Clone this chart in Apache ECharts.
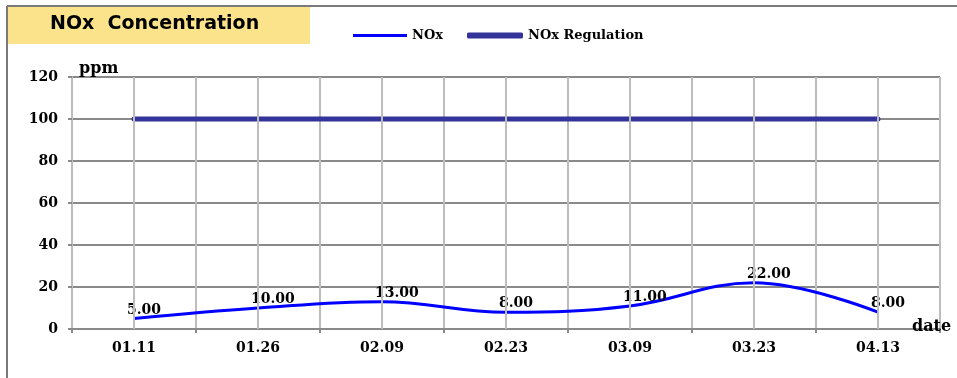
<!DOCTYPE html>
<html>
<head>
<meta charset="utf-8">
<style>
  html, body { margin: 0; padding: 0; background: #fff; }
  #chart { width: 957px; height: 378px; }
</style>
<script src="https://cdn.jsdelivr.net/npm/echarts@6/dist/echarts.min.js"></script>
</head>
<body>
<div id="chart"></div>
<script>
// Sampling dates and measured NOx concentrations (ppm)
const dates = ['01.11', '01.26', '02.09', '02.23', '03.09', '03.23', '04.13'];
const noxValues = [5, 10, 13, 8, 11, 22, 8];
const regulationValues = [100, 100, 100, 100, 100, 100, 100];
const yTicks = { min: 0, max: 120, step: 20 };

const serif = '"DejaVu Serif", "Liberation Serif", serif';
const chart = echarts.init(document.getElementById('chart'), null, { renderer: 'canvas' });

chart.setOption({
  animation: false,
  backgroundColor: '#ffffff',
  grid: { left: 72, right: 17, top: 77, bottom: 49, containLabel: false },
  graphic: [
    // frame lines
    { type: 'line', shape: { x1: 7, y1: 6, x2: 7, y2: 378 }, style: { stroke: '#7a7a7a', lineWidth: 2 }, z: 0 },
    { type: 'line', shape: { x1: 7, y1: 6, x2: 957, y2: 6 }, style: { stroke: '#7a7a7a', lineWidth: 2 }, z: 0 },
    // title box
    { type: 'rect', shape: { x: 8, y: 7, width: 302, height: 37 }, style: { fill: '#fbe38c' }, z: 1 },
    { type: 'text', left: 50, top: 15, z: 2,
      style: { text: 'NOx  Concentration', fill: '#000', font: 'bold 19px "DejaVu Sans", sans-serif' } },
    // axis names
    { type: 'text', left: 79, top: 61, z: 2,
      style: { text: 'ppm', fill: '#000', font: 'bold 16px ' + serif } },
    { type: 'text', left: 912, top: 319, z: 2,
      style: { text: 'date', fill: '#000', font: 'bold 16px ' + serif } }
  ],
  legend: [
    { data: [{ name: 'NOx', icon: 'rect' }], left: 348, top: 24, itemWidth: 54, itemHeight: 3,
      textStyle: { fontFamily: serif, fontWeight: 'bold', fontSize: 13, color: '#000' } },
    { data: [{ name: 'NOx Regulation', icon: 'roundRect' }], left: 462, top: 24, itemWidth: 56, itemHeight: 6,
      textStyle: { fontFamily: serif, fontWeight: 'bold', fontSize: 13, color: '#000' } }
  ],
  xAxis: {
    type: 'category',
    data: dates,
    boundaryGap: true,
    axisLine: { lineStyle: { color: '#8a8a8a', width: 2 } },
    axisTick: { show: true, length: 4, lineStyle: { color: '#8a8a8a', width: 2 } },
    axisLabel: { margin: 12, color: '#000', fontFamily: serif, fontWeight: 'bold', fontSize: 14 },
    splitLine: { show: true, lineStyle: { color: '#bdbdbd', width: 2 } }
  },
  yAxis: {
    type: 'value',
    min: yTicks.min, max: yTicks.max, interval: yTicks.step,
    axisLine: { show: true, lineStyle: { color: '#bdbdbd', width: 2 } },
    axisTick: { show: true, length: 4, lineStyle: { color: '#8a8a8a', width: 2 } },
    axisLabel: { margin: 14, color: '#000', fontFamily: serif, fontWeight: 'bold', fontSize: 14 },
    splitLine: { show: true, lineStyle: { color: '#8a8a8a', width: 2 } }
  },
  series: [
    {
      // vertical guide lines through each sampling date
      type: 'line', data: [], silent: true, z: 1,
      markLine: {
        silent: true, symbol: ['none', 'none'], label: { show: false },
        lineStyle: { color: '#bdbdbd', width: 2, type: 'solid' },
        data: dates.map(d => ({ xAxis: d }))
      }
    },
    {
      name: 'NOx Regulation', type: 'line', data: regulationValues, z: 3,
      symbol: 'circle', symbolSize: 1, showSymbol: false,
      itemStyle: { color: '#333399' },
      lineStyle: { color: '#333399', width: 5, cap: 'round' }
    },
    {
      name: 'NOx', type: 'line', data: noxValues, z: 4,
      smooth: 0.4, symbol: 'circle', symbolSize: 1,
      itemStyle: { color: '#0000ff' },
      lineStyle: { color: '#0000ff', width: 3 },
      label: {
        show: true, position: 'top', distance: 1, align: 'left', offset: [-7, 0],
        color: '#000', fontFamily: serif, fontWeight: 'bold', fontSize: 14,
        formatter: p => p.value.toFixed(2)
      }
    }
  ]
});
</script>
</body>
</html>
